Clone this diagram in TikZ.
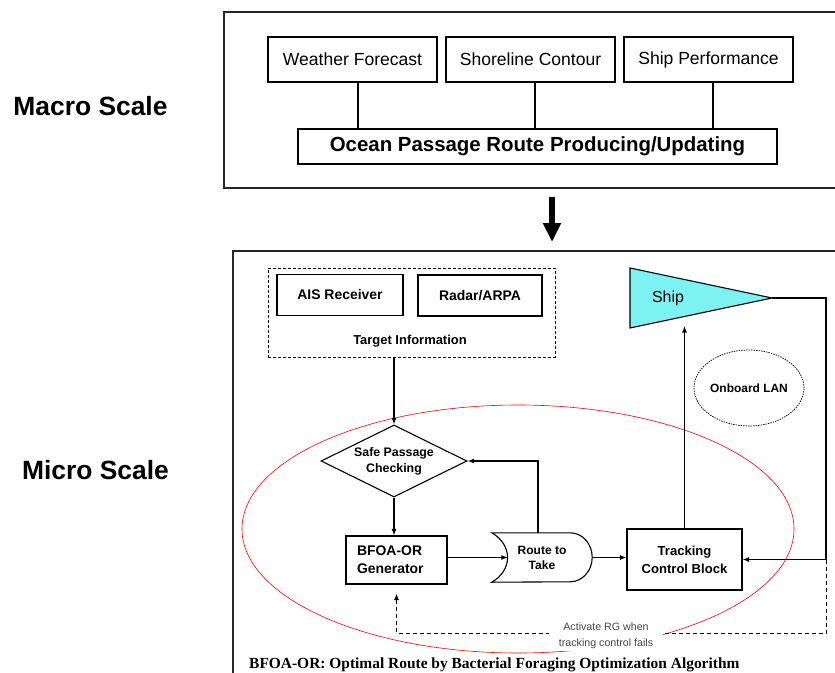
\documentclass[tikz,border=0pt]{standalone}
\usepackage{fontspec}
\setmainfont{Liberation Sans}
\newfontfamily\capfont{Liberation Serif}
\usetikzlibrary{arrows.meta,shapes.geometric,calc}
\definecolor{shipcyan}{RGB}{125,242,242}
\definecolor{notegray}{RGB}{70,70,70}

\begin{document}
\begin{tikzpicture}[x=1bp,y=-1bp,
  frame/.style={line width=1.3bp,draw=black!85},
  srcbox/.style={draw,line width=1.1bp,fill=white,minimum width=169bp,minimum height=45bp,
    inner sep=0pt,font=\fontsize{17.6}{21}\selectfont},
  flowbox/.style={draw,line width=1.1bp,fill=white,inner sep=0pt,align=center,
    font=\bfseries\fontsize{14}{18}\selectfont},
  scalelabel/.style={font=\bfseries\fontsize{26.5}{30}\selectfont},
  link/.style={line width=1.1bp},
  arr/.style={line width=1.1bp,-{Latex[length=6.5bp,width=5bp]}},
  failarr/.style={line width=1bp,dash pattern=on 4bp off 3bp,-{Latex[length=6.5bp,width=5bp]}},
]
\useasboundingbox (0,0) rectangle (835,673);

% ---------- macro scale ----------
\draw[frame] (836,12) -- (224,12) -- (224,188) -- (836,188);
\node[scalelabel] (macro) at (90.5,106) {Macro Scale};

\node[srcbox] (wf) at (352.5,59.5) {Weather Forecast};
\node[srcbox] (sc) at (530.5,59.5) {Shoreline Contour};
\node[srcbox] (sp) at (708.5,59.5) {Ship Performance};
\node[draw,line width=1.1bp,minimum width=479bp,minimum height=35bp,inner sep=0pt,
  font=\bfseries\fontsize{20.5}{24}\selectfont] (op) at (537.5,146.5)
  {Ocean Passage Route Producing/Updating};

\coordinate (wfo) at ([xshift=5.5bp]wf.south);
\coordinate (sco) at ([xshift=4.5bp]sc.south);
\coordinate (spo) at ([xshift=4.5bp]sp.south);
\draw[link] (wfo) -- (wfo |- op.north);
\draw[link] (sco) -- (sco |- op.north);
\draw[link] (spo) -- (spo |- op.north);

% ---------- transition arrow ----------
\coordinate (down1) at (552,197);
\coordinate (down2) at (552,242);
\draw[line width=6bp,-{Triangle[length=19bp,width=17bp]}] (down1) -- (down2);

% ---------- micro scale ----------
\draw[frame] (836,251) -- (233,251) -- (233,674);
\node[scalelabel] (micro) at (95.5,470) {Micro Scale};

% loop of the route generator
\node[ellipse,draw=red,line width=0.6bp,minimum width=552bp,minimum height=248bp,inner sep=0pt]
  (loop) at (518,529) {};

% target information group
\node[draw,line width=0.8bp,dash pattern=on 3bp off 2bp,minimum width=287bp,minimum height=89bp,
  inner sep=0pt] (tgt) at (411.5,312.5) {};
\node[flowbox,minimum width=126bp,minimum height=41bp] (ais) at (340,295) {AIS Receiver};
\node[flowbox,minimum width=124bp,minimum height=41bp] (radar) at (480,295.5) {Radar/ARPA};
\node[font=\bfseries\fontsize{13}{16}\selectfont] (tgtl) at (410,341) {Target Information};

% flow blocks
\node[diamond,draw,line width=1.1bp,fill=white,aspect=2,minimum width=146bp,minimum height=72bp,
  inner sep=0pt,align=center,font=\bfseries\fontsize{12.4}{16}\selectfont]
  (spc) at (394,461) {Safe Passage\\Checking};
\node[flowbox,minimum width=101bp,minimum height=48bp,text width=79bp,align=left]
  (bfoa) at (396.5,560) {BFOA-OR\\Generator};
\node[minimum width=100bp,minimum height=49bp,inner sep=0pt,align=center,
  font=\bfseries\fontsize{12.1}{15}\selectfont] (route) at (542,557.5) {Route to\\Take};
\draw[line width=1.1bp] (route.north west) -- ([xshift=-22bp]route.north east)
  arc[start angle=-90,end angle=90,x radius=22,y radius=24.5]
  -- (route.south west) .. controls +(21,-12) and +(21,12) .. (route.north west) -- cycle;
\node[flowbox,minimum width=115bp,minimum height=61bp,font=\bfseries\fontsize{13.1}{18}\selectfont]
  (track) at (684.5,559.5) {Tracking\\Control Block};

% ship
\coordinate (shipA) at (630,268);
\coordinate (shipB) at (630,328);
\coordinate (shiptip) at (772,298);
\filldraw[fill=shipcyan,line width=1.1bp] (shipA) -- (shiptip) -- (shipB) -- cycle;
\node[font=\fontsize{16}{19}\selectfont] (shiplbl) at (668,298) {Ship};
\coordinate (shipin) at (684.5,326);

\node[ellipse,draw,line width=0.7bp,dash pattern=on 1.5bp off 1bp,minimum width=110bp,
  minimum height=76bp,inner sep=0pt,font=\bfseries\fontsize{12}{15}\selectfont]
  (lan) at (749,388) {Onboard LAN};

% connectors
\draw[arr] (tgt.south -| spc.north) -- (spc.north);
\draw[arr] (spc.south) -- (spc.south |- bfoa.north);
\coordinate (rin) at ([xshift=16bp]route.west);
\draw[arr] (rin -| bfoa.east) -- (rin);
\coordinate (rtop) at ([xshift=-4bp]route.north);
\draw[arr] (rtop) -- (rtop |- spc.east) -- (spc.east);
\draw[arr] (route.east) -- (route.east -| track.west);
\draw[arr] (track.north) -- (track.north |- shipin);
\coordinate (rcorner) at (826,298);
\draw[arr] (shiptip) -- (rcorner) |- (track.east);

\coordinate (failrow) at (606,633);
\draw[failarr,shorten >=9bp] (rcorner |- track.east) -- (rcorner |- failrow) -| (bfoa.south);
\node[fill=white,inner xsep=10bp,inner ysep=2bp,align=center,text=notegray,
  font=\fontsize{10.7}{16}\selectfont] (fail) at (606,636)
  {Activate RG when\\tracking control fails};

% caption
\node[anchor=base west,inner sep=0pt,font=\capfont\bfseries\fontsize{15.5}{18}\selectfont]
  (cap) at (249,668) {BFOA-OR: Optimal Route by Bacterial Foraging Optimization Algorithm};
\end{tikzpicture}
\end{document}
